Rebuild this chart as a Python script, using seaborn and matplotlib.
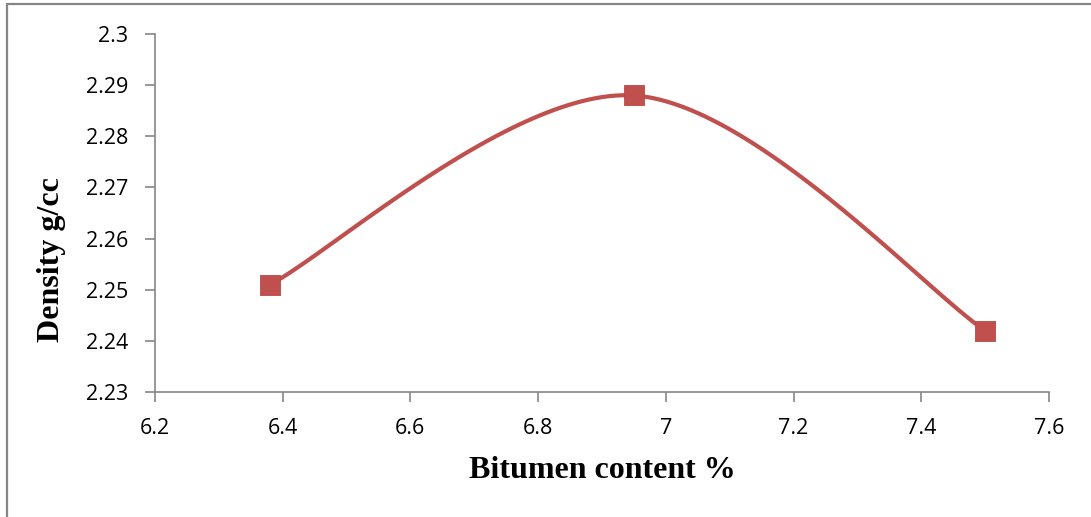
import numpy as np
import pandas as pd
import matplotlib
matplotlib.use("Agg")
import matplotlib.pyplot as plt
from matplotlib.lines import Line2D
from matplotlib.ticker import FuncFormatter
import seaborn as sns

bitumen = [6.38, 6.95, 7.5]
density = [2.251, 2.288, 2.242]
x_ticks = [6.2, 6.4, 6.6, 6.8, 7.0, 7.2, 7.4, 7.6]
y_ticks = [2.23, 2.24, 2.25, 2.26, 2.27, 2.28, 2.29, 2.3]
x_label = "Bitumen content %"
y_label = "Density g/cc"

sns.set_theme(style="white")
plt.rcParams['font.family'] = ['Open Sans', 'DejaVu Sans']

RED = "#C0504D"
GRAY = "#868686"

fig = plt.figure(figsize=(10.91, 5.17), dpi=100)
ax = fig.add_axes([0.142, 0.2418, 0.8195, 0.6922])

xlim = (6.2, 7.6)
ylim = (2.23, 2.3)
ax.set_xlim(*xlim)
ax.set_ylim(*ylim)

# Excel-style smoothed curve (Bezier, control points from neighbours), computed in pixel space
W, H = 894.0, 358.0
px = (np.array(bitumen) - xlim[0]) / (xlim[1] - xlim[0]) * W
py = (np.array(density) - ylim[0]) / (ylim[1] - ylim[0]) * H
P = np.column_stack([px, py])
n = len(P)
curve = []
t = np.linspace(0, 1, 60)
for i in range(n - 1):
    p0 = P[i - 1] if i > 0 else P[i]
    p1 = P[i]
    p2 = P[i + 1]
    p3 = P[i + 2] if i + 2 < n else P[i + 1]
    c1 = p1 + (p2 - p0) / 6.0
    c2 = p2 - (p3 - p1) / 6.0
    seg = ((1 - t)[:, None] ** 3 * p1 + 3 * ((1 - t) ** 2 * t)[:, None] * c1
           + 3 * ((1 - t) * t ** 2)[:, None] * c2 + (t ** 3)[:, None] * p2)
    curve.append(seg if i == 0 else seg[1:])
curve = np.vstack(curve)
cx = curve[:, 0] / W * (xlim[1] - xlim[0]) + xlim[0]
cy = curve[:, 1] / H * (ylim[1] - ylim[0]) + ylim[0]
df_curve = pd.DataFrame({"x": cx, "y": cy})
df_pts = pd.DataFrame({"x": bitumen, "y": density})

sns.lineplot(data=df_curve, x="x", y="y", sort=False, color=RED, linewidth=3.0,
             ax=ax, estimator=None, solid_capstyle="round")
sns.scatterplot(data=df_pts, x="x", y="y", marker="s", s=215, color=RED,
                edgecolor="#B94845", linewidth=0.6, ax=ax, zorder=5)

ax.set_xticks(x_ticks)
ax.set_yticks(y_ticks)
ax.xaxis.set_major_formatter(FuncFormatter(lambda v, p: "%g" % round(v, 4)))
ax.yaxis.set_major_formatter(FuncFormatter(lambda v, p: "%g" % round(v, 4)))
for s in ["top", "right"]:
    ax.spines[s].set_visible(False)
for s in ["left", "bottom"]:
    ax.spines[s].set_color(GRAY)
    ax.spines[s].set_linewidth(1.2)
ax.tick_params(axis="both", which="major", direction="out", length=7, width=1.2,
               color=GRAY, labelsize=15.5, labelcolor="black",
               left=True, bottom=True)
ax.tick_params(axis="x", pad=12)
ax.tick_params(axis="y", pad=12)

ax.set_xlabel(x_label, family="Liberation Serif", fontweight="bold", fontsize=23, color="black")
ax.set_ylabel(y_label, family="Liberation Serif", fontweight="bold", fontsize=23, color="black")
ax.xaxis.set_label_coords(0.5, -0.218)
ax.xaxis.label.set_va("center")
ax.yaxis.set_label_coords(-0.116, 0.369)
ax.yaxis.label.set_va("center")

# outer border (left and top)
fig.add_artist(Line2D([7 / 1091, 7 / 1091], [0, 1 - 4 / 517], transform=fig.transFigure,
                      color=GRAY, linewidth=1.6))
fig.add_artist(Line2D([7 / 1091, 1], [1 - 4 / 517, 1 - 4 / 517], transform=fig.transFigure,
                      color=GRAY, linewidth=1.6))

fig.savefig("out.png", dpi=100)
